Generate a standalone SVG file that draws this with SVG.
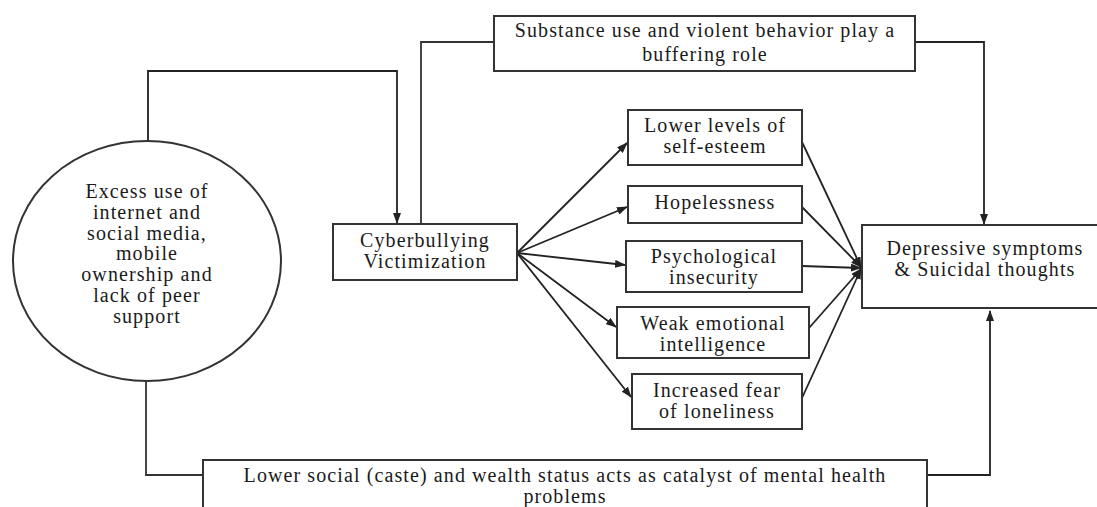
<svg xmlns="http://www.w3.org/2000/svg" width="1097" height="507" viewBox="0 0 1097 507">
<style>
  .box { fill: #fff; stroke: #333; stroke-width: 2; }
  .ln { fill: none; stroke: #333; stroke-width: 1.8; }
  .arr { fill: none; stroke: #222; stroke-width: 1.8; marker-end: url(#ah); }
  text { font-family: "Liberation Serif", "Times New Roman", serif; font-size: 20px; fill: #1a1a1a; text-anchor: middle; letter-spacing: 1.1px; }
</style>
<defs>
  <marker id="ah" markerWidth="11" markerHeight="8" refX="10" refY="4" orient="auto" markerUnits="userSpaceOnUse">
    <path d="M0,0 L11,4 L0,8 z" fill="#222"/>
  </marker>
</defs>
<rect width="1097" height="507" fill="#fff"/>

<g id="connectors">
  <polyline class="arr" points="148,141 148,71 397,71 397,223"/>
  <polyline class="ln" points="494,42 421,42 421,224"/>
  <polyline class="arr" points="915,42 984,42 984,224"/>
  <polyline class="ln" points="146,380 146,475 203,475"/>
  <polyline class="arr" points="927,475 990,475 990,311"/>
  <line class="arr" x1="517" y1="253" x2="627" y2="143"/>
  <line class="arr" x1="517" y1="253" x2="627" y2="207"/>
  <line class="arr" x1="517" y1="253" x2="625" y2="265"/>
  <line class="arr" x1="517" y1="253" x2="616" y2="327"/>
  <line class="arr" x1="517" y1="253" x2="631" y2="397"/>
  <line class="arr" x1="802" y1="142" x2="861" y2="267"/>
  <line class="arr" x1="802" y1="207" x2="861" y2="267"/>
  <line class="arr" x1="802" y1="266" x2="861" y2="268"/>
  <line class="arr" x1="809" y1="328" x2="861" y2="269"/>
  <line class="arr" x1="802" y1="398" x2="861" y2="269"/>
</g>

<g id="excess">
  <ellipse class="box" cx="147" cy="261" rx="134" ry="120"/>
  <text x="147" y="198">Excess use of</text>
  <text x="147" y="219">internet and</text>
  <text x="147" y="240">social media,</text>
  <text x="147" y="260">mobile</text>
  <text x="147" y="281">ownership and</text>
  <text x="147" y="302">lack of peer</text>
  <text x="147" y="323">support</text>
</g>

<g id="substance">
  <rect class="box" x="494" y="16" width="421" height="55"/>
  <text x="705" y="37">Substance use and violent behavior play a</text>
  <text x="705" y="61">buffering role</text>
</g>

<g id="cyber">
  <rect class="box" x="333" y="224" width="184" height="56"/>
  <text x="425" y="247">Cyberbullying</text>
  <text x="425" y="268">Victimization</text>
</g>

<g id="selfesteem">
  <rect class="box" x="628" y="110" width="174" height="55"/>
  <text x="715" y="132">Lower levels of</text>
  <text x="715" y="153">self-esteem</text>
</g>

<g id="hopeless">
  <rect class="box" x="628" y="186" width="174" height="37"/>
  <text x="715" y="209">Hopelessness</text>
</g>

<g id="psych">
  <rect class="box" x="626" y="241" width="176" height="51"/>
  <text x="714" y="263">Psychological</text>
  <text x="714" y="284">insecurity</text>
</g>

<g id="weak">
  <rect class="box" x="617" y="307" width="192" height="51"/>
  <text x="713" y="330">Weak emotional</text>
  <text x="713" y="351">intelligence</text>
</g>

<g id="fear">
  <rect class="box" x="632" y="374" width="170" height="55"/>
  <text x="717" y="397">Increased fear</text>
  <text x="717" y="418">of loneliness</text>
</g>

<g id="depressive">
  <rect class="box" x="862" y="225" width="245" height="83"/>
  <text x="985" y="255">Depressive symptoms</text>
  <text x="985" y="276">&amp; Suicidal thoughts</text>
</g>

<g id="social">
  <rect class="box" x="203" y="460" width="724" height="60"/>
  <text x="565" y="482">Lower social (caste) and wealth status acts as catalyst of mental health</text>
  <text x="565" y="503">problems</text>
</g>
</svg>
